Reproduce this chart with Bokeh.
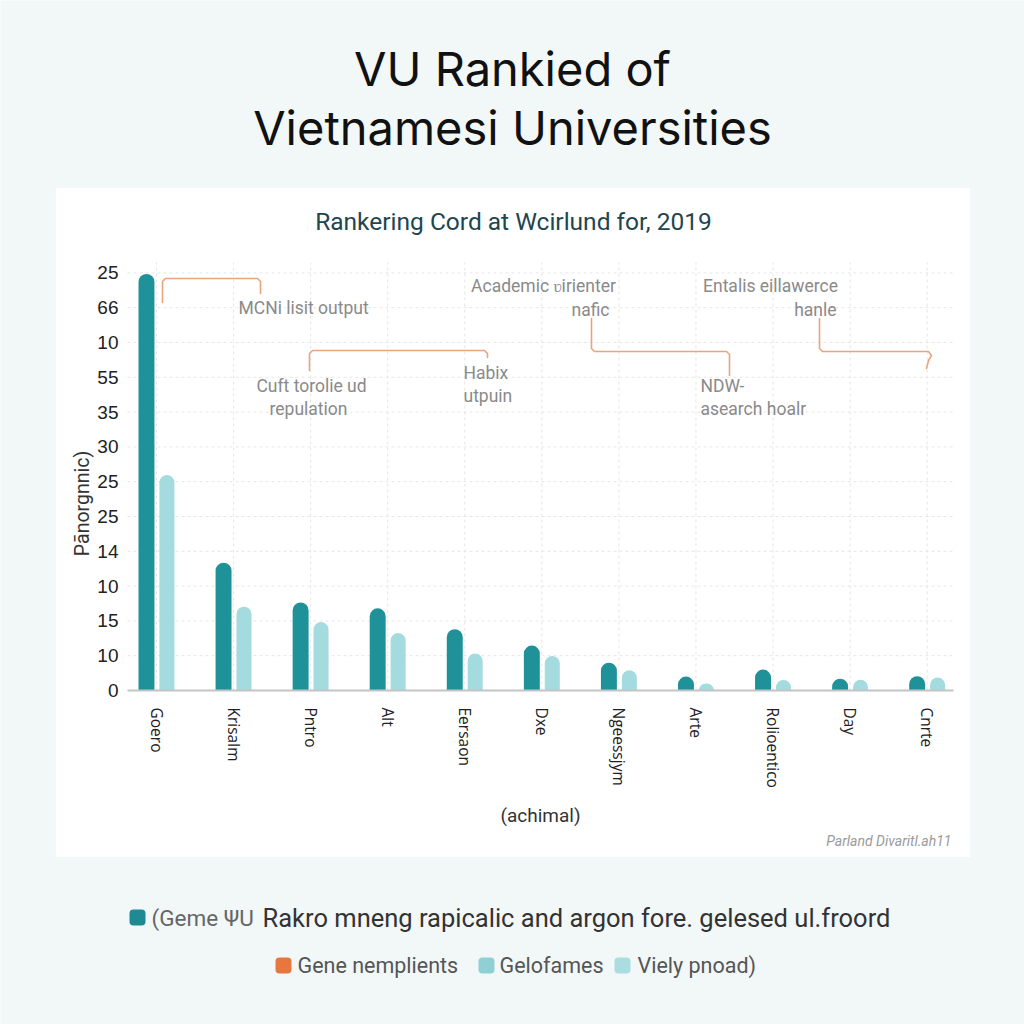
import numpy as np
from bokeh.plotting import figure
from bokeh.models import Label, BoxAnnotation, FixedTicker, Range1d
from bokeh.embed import file_html
from bokeh.resources import INLINE

# ---------------- data ----------------
categories = ["Goero", "Krisalm", "Pntro", "Alt", "Eersaon", "Dxe",
              "Ngeessjym", "Arte", "Rolioentico", "Day", "Cnrte"]
series_dark = [11.97, 3.67, 2.53, 2.36, 1.76, 1.29, 0.80, 0.40, 0.60, 0.34, 0.41]
series_light = [6.19, 2.41, 1.97, 1.65, 1.06, 0.99, 0.58, 0.20, 0.30, 0.31, 0.37]
y_tick_labels = ["0", "10", "15", "10", "14", "25", "25", "30", "35", "55", "10", "66", "25"]

title_lines = ["VU Rankied of", "Vietnamesi Universities"]
subtitle = "Rankering Cord at Wcirlund for, 2019"
x_title = "(achimal)"
y_title = "Pānorgnnic)"
footnote = "Parland Divaritl.ah11"
legend1_a = "(Geme ΨU"
legend1_b = "Rakro mneng rapicalic and argon fore. gelesed ul.froord"
legend2 = ["Gene nemplients", "Gelofames", "Viely pnoad)"]

DARK = "#1f9199"
LIGHT = "#a4dbde"
ORANGE = "#e8a47d"
BG = "#f2f8f8"

# ---------------- geometry (canvas = frame) ----------------
W = H = 1024
CAT0_PX, CAT_STEP = 156.0, 77.07       # pixel of first category, pixels per category
ZERO_PX, UNIT_PX = 690.0, 34.8         # pixel of y=0, pixels per y unit
XS, XE = (0 - CAT0_PX) / CAT_STEP, (W - CAT0_PX) / CAT_STEP
YS, YE = (ZERO_PX - H) / UNIT_PX, ZERO_PX / UNIT_PX

def X(px):
    return (px - CAT0_PX) / CAT_STEP

def Y(py):
    return (ZERO_PX - py) / UNIT_PX

PL, PR, PT = 127, 953, 262   # plot area edges (pixels)

p = figure(width=W, height=H, x_range=Range1d(XS, XE), y_range=Range1d(YS, YE),
           output_backend="svg", toolbar_location=None,
           min_border=0, border_fill_color=BG, background_fill_color=BG,
           outline_line_color=None)
p.xgrid.visible = False
p.ygrid.visible = False

# white panel
p.add_layout(BoxAnnotation(left=X(55), right=X(970), top=Y(187), bottom=Y(857),
                           fill_color="white", fill_alpha=1.0,
                           line_color="#e6eeee", line_width=1, level="image"))

# dashed grid
n_y = len(y_tick_labels)
p.segment(x0=[X(PL)] * (n_y - 1), x1=[X(PR)] * (n_y - 1),
          y0=list(range(1, n_y)), y1=list(range(1, n_y)),
          line_color="#e6e6e6", line_dash="3 3", line_width=1)
p.segment(x0=list(range(len(categories))), x1=list(range(len(categories))),
          y0=[0] * len(categories), y1=[Y(PT)] * len(categories),
          line_color="#e6e6e6", line_dash="3 3", line_width=1)

# axes placed inside the canvas
p.xaxis.fixed_location = 0
p.xaxis.bounds = (X(PL), X(PR))
p.xaxis.ticker = FixedTicker(ticks=list(range(len(categories))))
p.xaxis.major_label_overrides = {i: c for i, c in enumerate(categories)}
p.xaxis.major_label_orientation = "vertical"
p.xaxis.major_label_standoff = 11
p.xaxis.major_label_text_font = "Open Sans"
p.xaxis.major_label_text_font_size = "15.5px"
p.xaxis.major_label_text_color = "#222222"
p.xaxis.axis_line_color = "#c4c4c4"
p.xaxis.axis_line_width = 2
p.xaxis.major_tick_line_color = None
p.xaxis.minor_tick_line_color = None

p.yaxis.fixed_location = X(PL)
p.yaxis.bounds = (0, n_y - 1)
p.yaxis.ticker = FixedTicker(ticks=list(range(n_y)))
p.yaxis.major_label_overrides = {i: t for i, t in enumerate(y_tick_labels)}
p.yaxis.major_label_standoff = 3
p.yaxis.major_label_text_font = "Liberation Sans"
p.yaxis.major_label_text_font_size = "19px"
p.yaxis.major_label_text_color = "#222222"
p.yaxis.axis_line_color = None
p.yaxis.major_tick_line_color = None
p.yaxis.minor_tick_line_color = None

# bars
idx = np.arange(len(categories))
p.vbar(x=idx - 0.13, top=series_dark, width=0.207, fill_color=DARK, line_color=None,
       border_radius=(8, 8, 0, 0))
p.vbar(x=idx + 0.135, top=series_light, width=0.195, fill_color=LIGHT, line_color=None,
       border_radius=(8, 8, 0, 0))

# bracket callouts (pixel positions)
brackets = [
    [(162, 302), (162, 281), (165, 278), (257, 278), (260, 281), (260, 293)],
    [(309, 370), (309, 353), (312, 350), (484, 350), (487, 353), (487, 357)],
    [(591, 318), (591, 348), (594, 351), (726, 351), (729, 354), (729, 375)],
    [(819, 318), (819, 348), (822, 351), (928, 351), (931, 355), (928, 360), (926, 368)],
]
for br in brackets:
    p.line([X(a) for a, b in br], [Y(b) for a, b in br], line_color=ORANGE,
           line_width=1.6, line_join="round", line_cap="round")

def lab(text, rx, ry, size, color, align="left", font="Roboto", style="normal", angle=0.0):
    p.add_layout(Label(x=X(rx), y=Y(ry), text=text, text_font=font,
                       text_font_size=f"{size}px", text_color=color,
                       text_align=align, text_baseline="middle",
                       text_font_style=style, angle=angle))

GRAY = "#8a8a8a"
AS = 17.5
lab("MCNi lisit output", 238, 307, AS, GRAY)
lab("Cuft torolie ud", 311, 385, AS, GRAY, "center")
lab("repulation", 308, 408, AS, GRAY, "center")
lab("Habix", 463, 372, AS, GRAY)
lab("utpuin", 463, 395, AS, GRAY)
lab("Academic ʋirienter", 543, 285, AS, GRAY, "center")
lab("nafic", 590, 309, AS, GRAY, "center")
lab("NDW-", 700, 385, AS, GRAY)
lab("asearch hoalr", 700, 408, AS, GRAY)
lab("Entalis eillawerce", 770, 285, AS, GRAY, "center")
lab("hanle", 836, 309, AS, GRAY, "right")

# titles
lab(title_lines[0], 512, 68, 47, "#111111", "center", font="Inter")
lab(title_lines[1], 512, 127, 47, "#111111", "center", font="Inter")
lab(subtitle, 513, 221, 24.5, "#1e4650", "center", font="Roboto")

# axis titles, footnote
lab(x_title, 540, 815, 19, "#333333", "center", font="Roboto")
lab(y_title, 82, 503, 19.5, "#333333", "center", font="Roboto", angle=np.pi / 2)
lab(footnote, 951, 840, 14, "#9a9a9a", "right", font="Roboto", style="italic")

# legend
def swatch(cx, cy, color, s=15):
    p.add_layout(BoxAnnotation(left=X(cx - s / 2), right=X(cx + s / 2),
                               top=Y(cy - s / 2), bottom=Y(cy + s / 2),
                               fill_color=color, fill_alpha=1.0, line_color=None,
                               border_radius=4))

swatch(137, 917, "#1f8a93", 16)
lab(legend1_a, 151, 917, 22.5, "#666666", font="Roboto")
lab(legend1_b, 262, 917, 25.5, "#333333", font="Roboto")

swatch(283, 965, "#e8773f", 16)
lab(legend2[0], 297, 965, 21.5, "#555555", font="Roboto")
swatch(486, 965, "#8fd0d4", 16)
lab(legend2[1], 499, 965, 21.5, "#555555", font="Roboto")
swatch(622, 965, "#a9dde0", 16)
lab(legend2[2], 637, 965, 21.5, "#555555", font="Roboto")

open("out.html", "w").write(file_html(p, INLINE))
